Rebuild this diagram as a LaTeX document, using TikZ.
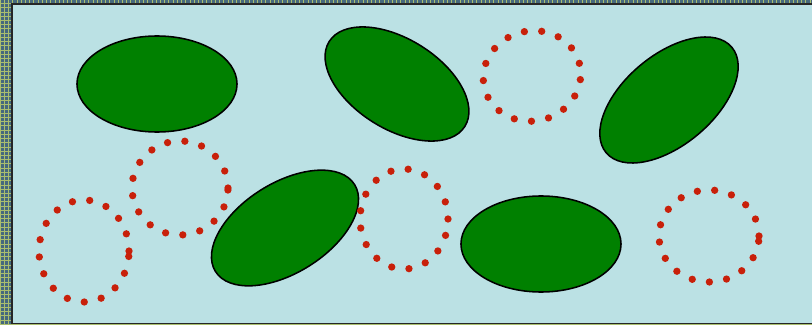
\documentclass[tikz,border=0pt]{standalone}
\usetikzlibrary{shapes.geometric,patterns}
\definecolor{poolblue}{RGB}{187,225,228}
\definecolor{leafgreen}{RGB}{0,128,0}
\definecolor{beadred}{RGB}{200,32,10}
\definecolor{framebase}{RGB}{70,105,125}
\definecolor{frameweave}{RGB}{170,190,110}
\tikzset{
  blob/.style={ellipse,draw=black,line width=1.1pt,fill=leafgreen,inner sep=0pt},
  beadring/.style={ellipse,draw=beadred,line width=5.2pt,line cap=round,
    dash pattern=on 0pt off 12.4pt,inner sep=0pt},
}
\begin{document}
\begin{tikzpicture}[x=0.025cm,y=0.025cm]
\useasboundingbox (0,0) rectangle (812,324);
\begin{scope}
\clip (0,0) rectangle (812,324);
% woven frame
\fill[framebase] (0,0) rectangle (812,324);
\fill[pattern=grid,pattern color=frameweave] (0,0) rectangle (812,324);
% pond
\draw[fill=poolblue,draw=black!85,line width=1.1pt] (12,0.6) rectangle (816,320);
\end{scope}
% solid ellipses
\node[blob,minimum width=4cm,minimum height=2.4cm] (blobA) at (157,240) {};
\node[blob,minimum width=4cm,minimum height=2.25cm,rotate=-32] (blobB) at (397,240) {};
\node[blob,minimum width=4.1cm,minimum height=2.25cm,rotate=40] (blobC) at (669,224) {};
\node[blob,minimum width=4.1cm,minimum height=2.25cm,rotate=32] (blobD) at (285,96) {};
\node[blob,minimum width=4cm,minimum height=2.4cm] (blobE) at (541,80) {};
% dotted rings
\node[beadring,minimum width=2.45cm,minimum height=2.25cm,rotate=15] (ringA) at (532,248) {};
\node[beadring,minimum width=2.4cm,minimum height=2.35cm] (ringB) at (180,136) {};
\node[beadring,minimum width=2.25cm,minimum height=2.55cm] (ringC) at (84,73) {};
\node[beadring,minimum width=2.2cm,minimum height=2.5cm] (ringD) at (404,105) {};
\node[beadring,minimum width=2.5cm,minimum height=2.3cm] (ringE) at (709,88) {};
\end{tikzpicture}
\end{document}
